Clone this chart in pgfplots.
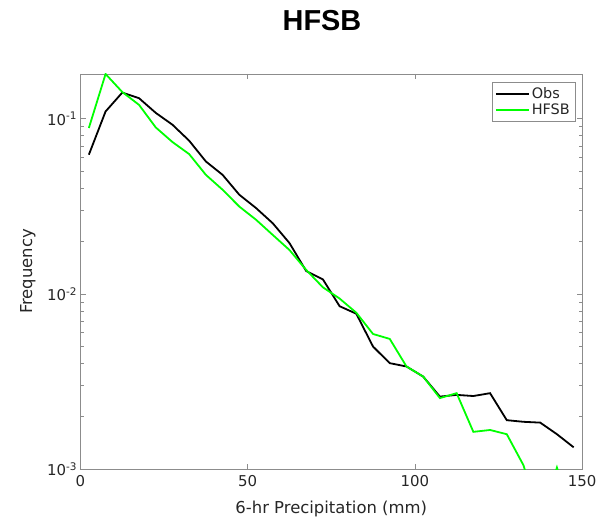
\documentclass[border=0pt]{standalone}
\usepackage{fontspec}
\setmainfont{DejaVu Sans}
\newfontfamily\titlefont{Liberation Sans}
\usepackage{pgfplots}
\pgfplotsset{compat=1.18}
\definecolor{matgreen}{rgb}{0,1,0}
\definecolor{txt}{HTML}{262626}
\definecolor{axgray}{HTML}{8C8C8C}
\begin{document}
\begin{tikzpicture}[x=1bp,y=1bp]
\useasboundingbox (0,0) rectangle (597,524);
\node[font=\titlefont\fontsize{29}{32}\selectfont\bfseries, text=black] at (322,503.5) {HFSB};
\begin{axis}[
  at={(80.5bp,55bp)}, anchor=south west,
  scale only axis, width=501.5bp, height=395bp,
  ymode=log, xmin=0, xmax=150, ymin=0.001, ymax=0.18,
  xtick={0,50,100,150},
  ytick={0.001,0.01,0.1},
  yticklabels={10\textsuperscript{-3},10\textsuperscript{-2},10\textsuperscript{-1}},
  /pgf/number format/assume math mode=true,
  xtick pos=both, ytick pos=both, tick align=inside,
  major tick length=5bp, minor tick length=3.5bp,
  axis line style={axgray, line width=0.8bp},
  every tick/.style={axgray, line width=0.6bp},
  tick label style={text=txt, font=\fontsize{15}{18}\selectfont},
  xticklabel style={yshift=-3bp},
  label style={text=txt, font=\fontsize{16.5}{19}\selectfont},
  xlabel={6-hr Precipitation (mm)},
  ylabel={Frequency},
  xlabel style={at={(axis description cs:0.5,-0.1)}, anchor=center},
  ylabel style={at={(axis description cs:-0.105,0.5)}, anchor=center},
  legend style={at={(1,1)}, anchor=north east, xshift=-7bp, yshift=-8.5bp,
    draw=axgray, font=\fontsize{14.5}{17}\selectfont, text=txt,
    inner sep=3bp, row sep=0bp},
  legend cell align=left,
  legend image code/.code={\draw[line width=2bp, #1] (0bp,0bp) -- (33bp,0bp);},
]
\addplot[color=black, line width=1.8bp] coordinates {
(2.5,0.0623) (7.5,0.110) (12.5,0.141) (17.5,0.131) (22.5,0.108) (27.5,0.0924)
(32.5,0.0749) (37.5,0.057) (42.5,0.0478) (47.5,0.0368) (52.5,0.0309) (57.5,0.0253)
(62.5,0.0195) (67.5,0.0135) (72.5,0.0121) (77.5,0.0085) (82.5,0.0077) (87.5,0.0050)
(92.5,0.00402) (97.5,0.00385) (102.5,0.00337) (107.5,0.00259) (112.5,0.00265)
(117.5,0.00261) (122.5,0.00271) (127.5,0.00190) (132.5,0.00186) (137.5,0.00184)
(142.5,0.00158) (147.5,0.00133)
};
\addlegendentry{Obs}
\addplot[color=matgreen, line width=1.8bp] coordinates {
(2.5,0.0885) (7.5,0.18) (12.5,0.142) (17.5,0.12) (22.5,0.0892) (27.5,0.0736)
(32.5,0.0628) (37.5,0.0478) (42.5,0.0393) (47.5,0.0315) (52.5,0.0265) (57.5,0.0217)
(62.5,0.0178) (67.5,0.0137) (72.5,0.0109) (77.5,0.0094) (82.5,0.0078) (87.5,0.0059)
(92.5,0.00553) (97.5,0.00385) (102.5,0.00337) (107.5,0.00254) (112.5,0.00271)
(117.5,0.00163) (122.5,0.00167) (127.5,0.00158) (132.5,0.00105) (137.5,0.0005)
(142.5,0.00102) (147.5,0.0005)
};
\addlegendentry{HFSB}
\end{axis}
\end{tikzpicture}
\end{document}
